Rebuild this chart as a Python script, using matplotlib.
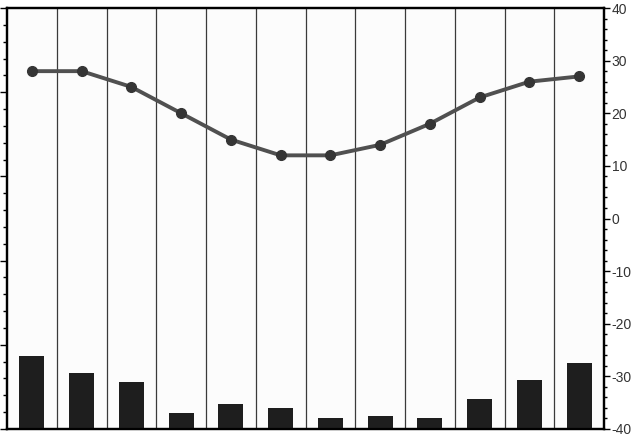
import numpy as np
import matplotlib.pyplot as plt
from matplotlib.ticker import MultipleLocator

plt.rcParams['font.family'] = ['Liberation Sans', 'DejaVu Sans']
plt.rcParams['axes.unicode_minus'] = False

# monthly values
months = np.arange(12)
precip = [87, 67, 56, 19, 30, 25, 13, 16, 13, 36, 58, 78]
temp = [28, 28, 25, 20, 15, 12, 12, 14, 18, 23, 26, 27]
temp_ticks = [-40, -30, -20, -10, 0, 10, 20, 30, 40]

fig = plt.figure(figsize=(6.37, 4.34), dpi=100)
fig.patch.set_facecolor('white')
ax = fig.add_axes([7/637, 5/434, 597/637, 421/434])
ax.set_facecolor('#fcfcfc')

# precipitation bars, left axis
ax.bar(months, precip, width=0.5, color='#1e1e1e', zorder=3)
ax.set_xlim(-0.5, 11.5)
ax.set_ylim(0, 500)
ax.yaxis.set_major_locator(MultipleLocator(100))
ax.yaxis.set_minor_locator(MultipleLocator(20))
ax.tick_params(axis='y', which='major', direction='out', length=5, width=1, labelleft=False)
ax.tick_params(axis='y', which='minor', direction='out', length=3, width=1)
ax.set_xticks([])
for sp in ax.spines.values():
    sp.set_linewidth(1.6)
    sp.set_color('black')

# month separators
for b in np.arange(0.5, 11.5, 1):
    ax.axvline(b, color='#3a3a3a', linewidth=0.9, zorder=1)

# temperature line, right axis
ax2 = ax.twinx()
ax2.plot(months, temp, color='#505050', linewidth=2.8, zorder=4)
ax2.plot(months, temp, 'o', color='#353535', markersize=7, zorder=5)
ax2.set_ylim(-40, 40)
ax2.set_yticks(temp_ticks)
ax2.yaxis.set_minor_locator(MultipleLocator(2))
ax2.tick_params(axis='y', which='major', direction='out', length=4, width=1,
                labelsize=10, labelcolor='#333333', pad=1.5)
ax2.tick_params(axis='y', which='minor', direction='out', length=2.5, width=1)
for sp in ax2.spines.values():
    sp.set_linewidth(1.6)

fig.savefig('out.png', dpi=100)
